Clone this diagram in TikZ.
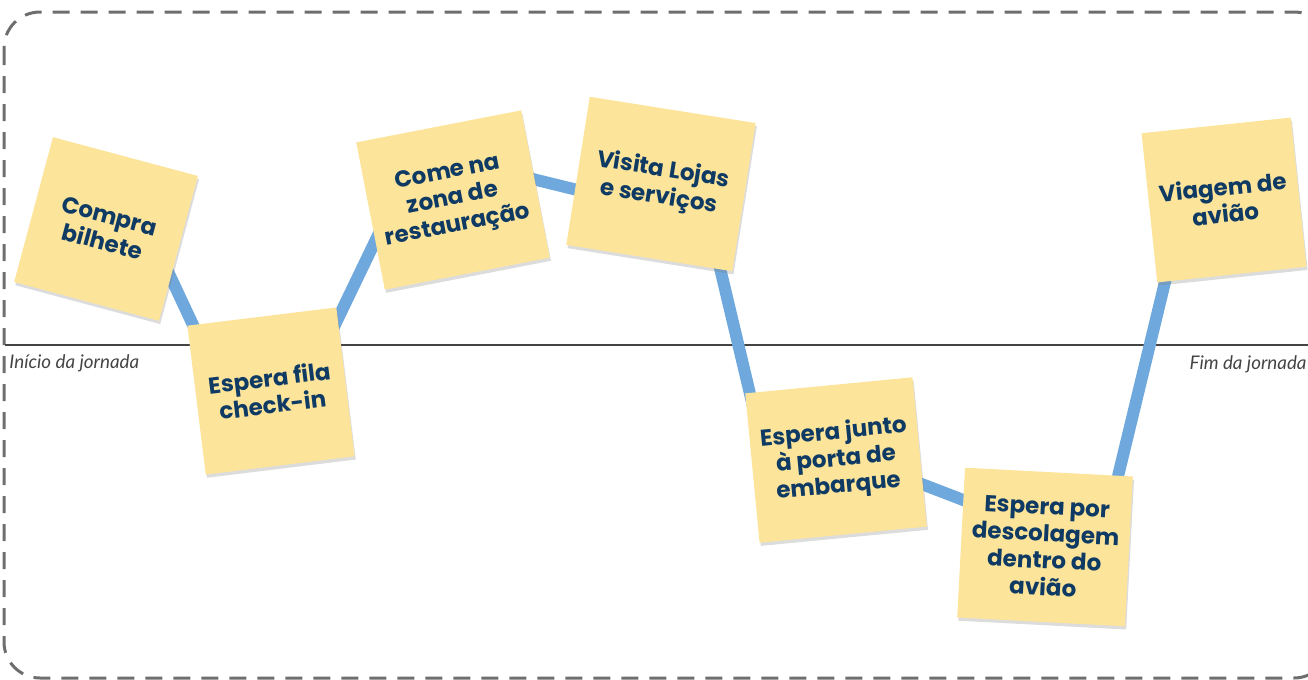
\documentclass[tikz,border=0pt]{standalone}
\usepackage{fontspec}
\usepackage{xcolor}
\usepackage{tikz}
\usetikzlibrary{calc,shadows,backgrounds}
\newfontfamily\notefont{Poppins}
\newfontfamily\labelfont{Lato}
\definecolor{postit}{RGB}{253,228,155}
\definecolor{tinta}{RGB}{14,58,99}
\definecolor{azul}{RGB}{111,168,220}
\definecolor{cinza}{RGB}{110,110,110}
\definecolor{texto}{RGB}{68,68,68}

\begin{document}
\begin{tikzpicture}[
  x=0.5pt, y=-0.5pt,
  note/.style={fill=postit, minimum width=75pt, minimum height=75pt, align=center,
    inner sep=2pt, text=tinta, font=\notefont\bfseries\fontsize{11.5}{13.5}\selectfont,
    drop shadow={shadow xshift=0.6pt, shadow yshift=-1.6pt, opacity=.28}},
  wide/.style={note, minimum width=84pt},
  trilho/.style={draw=azul, line width=6pt},
  borda/.style={draw=cinza, line width=1.5pt, dash pattern=on 8.5pt off 5.5pt, rounded corners=18pt},
  rotulo/.style={inner sep=0pt, text=texto, font=\labelfont\itshape\fontsize{9.4}{11}\selectfont}
]
\clip (0,0) rectangle (1308,680);

\node[note, rotate=-15] (compra)      at (106,229)  {Compra\\bilhete};
\node[note, rotate=7]   (checkin)     at (271,391)  {Espera fila\\check-in};
\node[wide, rotate=11]  (restauracao) at (453,200)  {Come na\\zona de\\restauração};
\node[wide, rotate=-9]  (lojas)       at (661,184)  {Visita Lojas\\e serviços};
\node[wide, rotate=5.5] (embarque)    at (836,460)  {Espera junto\\à porta de\\embarque};
\node[wide, rotate=-3]  (descolagem)  at (1045,547) {Espera por\\descolagem\\dentro do\\avião};
\node[note, rotate=6]   (viagem)      at (1224,200) {Viagem de\\avião};

\coordinate (inicio) at (5,345);
\coordinate (fim)    at (1308,345);
\node[rotulo, anchor=base west] at (9,368)    {Início da jornada};
\node[rotulo, anchor=base east] at (1307,369) {Fim da jornada};

\begin{scope}[on background layer]
  \draw[borda] (4,12) rectangle (1330,678);
  \draw[texto, line width=1pt] (inicio) -- (fim);
  \draw[trilho] ($(compra)+(44,4)$)       -- ($(checkin)+(-56,-19)$);
  \draw[trilho] ($(checkin)+(47,-31)$)    -- ($(restauracao)+(-58,0)$);
  \draw[trilho] ($(restauracao)+(47,-29)$) -- ($(lojas)+(-51,14)$);
  \draw[trilho] ($(lojas)+(44,21)$)       -- ($(embarque)+(-75,-20)$);
  \draw[trilho] ($(embarque)+(44,8)$)     -- ($(descolagem)+(-35,-29)$);
  \draw[trilho] ($(descolagem)+(60,-17)$) -- ($(viagem)+(-44,20)$);
\end{scope}
\end{tikzpicture}
\end{document}
